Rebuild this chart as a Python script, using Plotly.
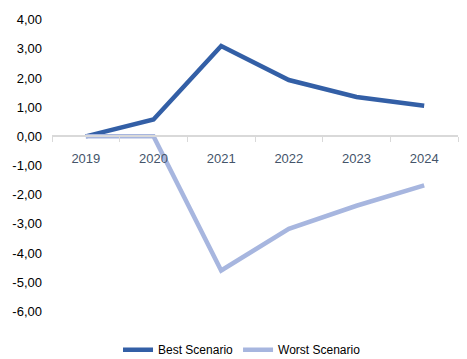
import plotly.graph_objects as go

# Scenario data
years = ["2019", "2020", "2021", "2022", "2023", "2024"]
best_scenario = [0.0, 0.58, 3.10, 1.93, 1.35, 1.05]
worst_scenario = [0.0, 0.0, -4.60, -3.17, -2.38, -1.68]

y_tick_values = [4, 3, 2, 1, 0, -1, -2, -3, -4, -5, -6]
y_tick_labels = ["4,00", "3,00", "2,00", "1,00", "0,00", "-1,00", "-2,00",
                 "-3,00", "-4,00", "-5,00", "-6,00"]

FONT = "Liberation Sans Narrow, Arial Narrow, Liberation Sans, Arial, sans-serif"
Y_MIN, Y_MAX = -6.4, 4.4

fig = go.Figure()
fig.add_trace(go.Scatter(
    x=years, y=best_scenario, name="Best Scenario", mode="lines",
    line=dict(color="#335FA6", width=4.5),
))
fig.add_trace(go.Scatter(
    x=years, y=worst_scenario, name="Worst Scenario", mode="lines",
    line=dict(color="#A7B6DF", width=4.5),
))

# Horizontal category axis sits on the zero line
zero_pos = (0 - Y_MIN) / (Y_MAX - Y_MIN)

fig.update_layout(
    width=467, height=359,
    margin=dict(l=52, r=9, t=8, b=36, autoexpand=False),
    paper_bgcolor="white", plot_bgcolor="white",
    font=dict(family=FONT, size=13, color="#000000"),
    showlegend=True,
    legend=dict(
        orientation="h", x=0.468, xanchor="center", y=-0.085, yanchor="middle",
        font=dict(family=FONT, size=12, color="#000000"),
        itemwidth=30, tracegroupgap=0,
    ),
    xaxis=dict(
        type="category", range=[-0.5, 5.5],
        anchor="free", position=zero_pos,
        showline=True, linecolor="#D9D9D9", linewidth=1.5,
        showgrid=False, zeroline=False,
        ticks="outside", tickson="boundaries", ticklen=5,
        tickcolor="#D9D9D9", tickwidth=1,
        tickfont=dict(family=FONT, size=13, color="#44546A"),
        ticklabelstandoff=10,
    ),
    yaxis=dict(
        range=[Y_MIN, Y_MAX],
        tickvals=y_tick_values, ticktext=y_tick_labels,
        showgrid=False, zeroline=False, showline=False,
        ticks="", ticklabelstandoff=9,
        tickfont=dict(family=FONT, size=13, color="#000000"),
    ),
)

fig.write_html("out.html")
